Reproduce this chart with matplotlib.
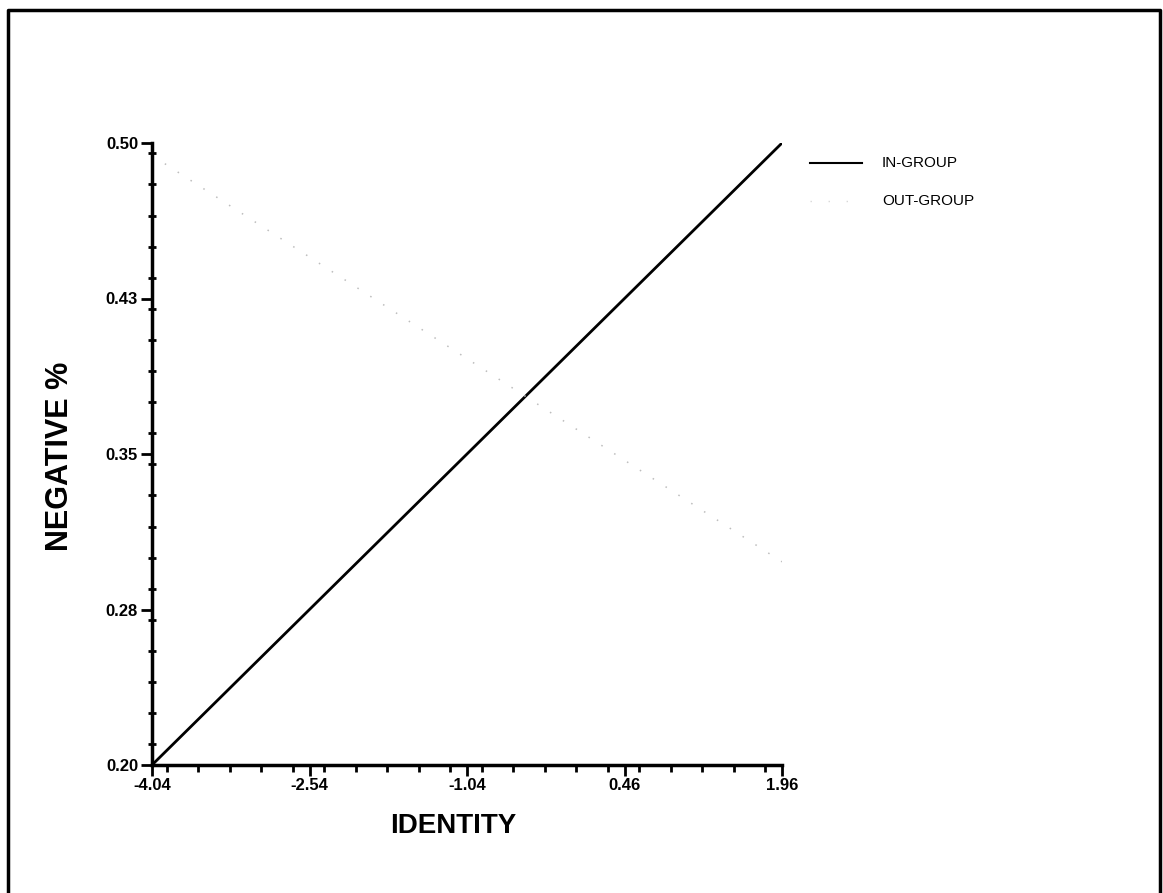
import numpy as np
import matplotlib
matplotlib.use("Agg")
import matplotlib.pyplot as plt
from matplotlib.lines import Line2D
from matplotlib.ticker import MultipleLocator, FixedLocator

# -------------------------------
# data
# -------------------------------
identity = [-4.04, 1.96]
in_group = [0.20, 0.50]
out_group = [0.494, 0.298]

x_ticks = [-4.04, -2.54, -1.04, 0.46, 1.96]
y_ticks = [0.20, 0.275, 0.35, 0.425, 0.50]
y_tick_labels = ["0.20", "0.28", "0.35", "0.43", "0.50"]

sans = ["Liberation Sans", "DejaVu Sans"]

# -------------------------------
# figure
# -------------------------------
fig = plt.figure(figsize=(11.63, 8.93), dpi=100)
ax = fig.add_axes([152 / 1163, 1 - 765 / 893, 630 / 1163, 622 / 893])

ax.plot(identity, in_group, color="black", lw=2.0, solid_capstyle="butt")
ax.plot(identity, out_group, color="#bdbdbd", lw=1.1, linestyle=(0, (1, 9)))

ax.set_xlim(-4.04, 1.96)
ax.set_ylim(0.20, 0.50)

ax.xaxis.set_major_locator(FixedLocator(x_ticks))
ax.xaxis.set_minor_locator(MultipleLocator(0.3))
ax.yaxis.set_major_locator(FixedLocator(y_ticks))
ax.yaxis.set_minor_locator(MultipleLocator(0.015))
ax.set_xticklabels([f"{v:.2f}" for v in x_ticks])
ax.set_yticklabels(y_tick_labels)

for s in ["top", "right"]:
    ax.spines[s].set_visible(False)
for s in ["left", "bottom"]:
    ax.spines[s].set_linewidth(2.5)

ax.tick_params(axis="x", which="major", direction="out", length=8, width=2, pad=1)
ax.tick_params(axis="x", which="minor", direction="out", length=5, width=2)
ax.tick_params(axis="y", which="major", direction="out", length=8, width=2, pad=2)
ax.tick_params(axis="y", which="minor", direction="inout", length=6, width=2)

for lab in ax.get_xticklabels() + ax.get_yticklabels():
    lab.set_family(sans)
    lab.set_fontsize(12)
    lab.set_fontweight("bold")

# axis titles
fig.text(60 / 1163, 1 - 456 / 893, "NEGATIVE %", rotation=90, ha="center",
         va="center", fontsize=22, fontweight="bold", family=sans)
fig.text(453 / 1163, 1 - 826 / 893, "IDENTITY", ha="center", va="center",
         fontsize=20, fontweight="bold", family=sans)

# legend
fig.add_artist(Line2D([810 / 1163, 862 / 1163], [1 - 163 / 893, 1 - 163 / 893],
                      color="black", lw=1.5))
fig.add_artist(Line2D([810 / 1163, 862 / 1163], [1 - 201 / 893, 1 - 201 / 893],
                      color="#d8d8d8", lw=1.0, linestyle=(0, (1, 12))))
fig.text(882 / 1163, 1 - 163 / 893, "IN-GROUP", ha="left", va="center",
         fontsize=11, family=sans)
fig.text(882 / 1163, 1 - 201 / 893, "OUT-GROUP", ha="left", va="center",
         fontsize=11, family=sans)

# outer frame (left, top, right)
fx0, fx1, fy = 8 / 1163, 1160 / 1163, 1 - 10 / 893
fig.add_artist(Line2D([fx0, fx0, fx1, fx1], [0, fy, fy, 0], color="black", lw=2.5))

fig.savefig("out.png", dpi=100, facecolor="white")
